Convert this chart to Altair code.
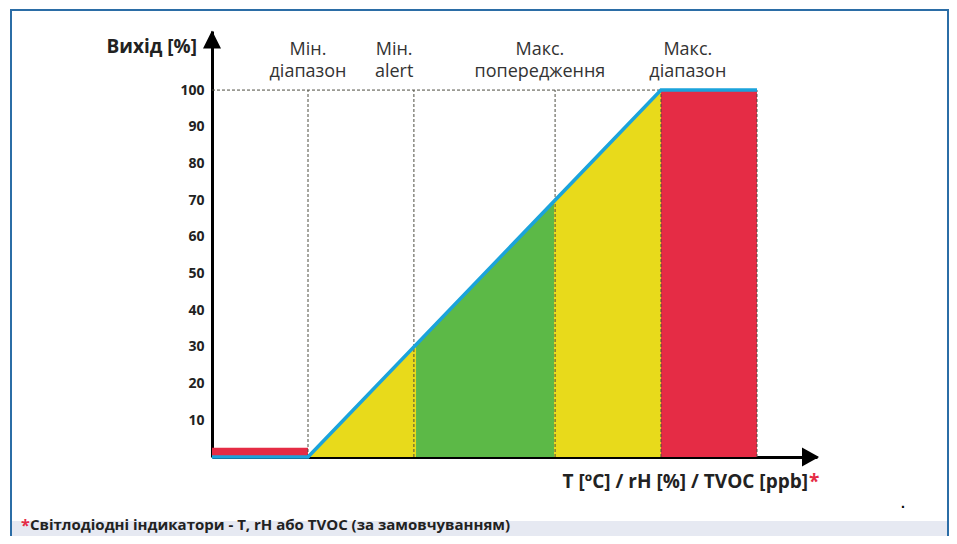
import altair as alt
import pandas as pd

# ---------------- data ----------------
X_DOMAIN = [-27.2, 144.2]
Y_DOMAIN = [0, 116.1]

y_ticks = [10, 20, 30, 40, 50, 60, 70, 80, 90, 100]

# zone boundaries on the input axis
x_start = -27.2
boundaries = [0, 30, 70, 100]
x_end = 127.2

# output characteristic (blue line)
line_x = [-27.2, 0, 100, 127.2]
line_y = [0, 0, 100, 100]

# coloured zones under the line
zone_names = ["low_alert", "low_alert", "ok", "ok", "high_warn", "high_warn"]
zone_x = [0, 30.6, 30.6, 69.7, 69.7, 100]
zone_y = [0, 30.6, 30.6, 69.7, 69.7, 100]
zone_seg = [1, 1, 2, 2, 3, 3]

# red blocks (range exceeded)
red_x = [-27.2, 100]
red_x2 = [0, 127.2]
red_y = [0, 0]
red_y2 = [2.5, 100]

# header labels
label_x = [0, 24.4, 65.7, 107.6]
label_text = ["Мін.\nдіапазон", "Мін.\nalert", "Макс.\nпопередження", "Макс.\nдіапазон"]

arrow_up = (-27.2, 113.8)
arrow_right = (142.1, 0)

# ---------------- styles ----------------
YELLOW = "#e8da1b"
GREEN = "#5cb947"
RED = "#e52c45"
BLUE = "#1ba3db"
DASH = "#4d4d40"

W, H = 605, 426

xs = alt.Scale(domain=X_DOMAIN, nice=False, zero=False)
ys = alt.Scale(domain=Y_DOMAIN, nice=False, zero=False)

one = pd.DataFrame({"a": [0]})

# frame + footer band
frame = alt.Chart(one).mark_rect(fill="white", fillOpacity=0, stroke="#2b6da6", strokeWidth=2).encode(
    x=alt.value(-201), x2=alt.value(736), y=alt.value(-21), y2=alt.value(515)
)
footer = alt.Chart(one).mark_rect(fill="#e6e9f2").encode(
    x=alt.value(-200), x2=alt.value(735), y=alt.value(490), y2=alt.value(515)
)

zones_df = pd.DataFrame({"zone": zone_names, "x": zone_x, "y": zone_y, "seg": zone_seg})
zones = alt.Chart(zones_df).mark_area(opacity=1).encode(
    x=alt.X("x:Q", scale=xs, axis=alt.Axis(labels=False, ticks=False, grid=False, title="",
                                           domainColor="black", domainWidth=3)),
    y=alt.Y("y:Q", scale=ys, axis=alt.Axis(values=y_ticks, ticks=False, grid=False, title="",
                                           domainColor="black", domainWidth=3,
                                           labelFont="Open Sans", labelFontWeight="bold",
                                           labelFontSize=14, labelColor="#222",
                                           labelPadding=8)),
    y2=alt.datum(0),
    detail="seg:N",
    color=alt.Color("zone:N", legend=None,
                    scale=alt.Scale(domain=["low_alert", "ok", "high_warn"],
                                    range=[YELLOW, GREEN, YELLOW])),
)

red_df = pd.DataFrame({"x": red_x, "x2": red_x2, "y": red_y, "y2": red_y2})
reds = alt.Chart(red_df).mark_rect(color=RED).encode(
    x=alt.X("x:Q", scale=xs), x2="x2:Q", y=alt.Y("y:Q", scale=ys), y2="y2:Q"
)

vdf = pd.DataFrame({"x": boundaries + [x_end], "y": [0] * 5, "y2": [100] * 5})
vlines = alt.Chart(vdf).mark_rule(color=DASH, strokeWidth=1, strokeDash=[3, 2]).encode(
    x=alt.X("x:Q", scale=xs), y=alt.Y("y:Q", scale=ys), y2="y2:Q"
)
hdf = pd.DataFrame({"x": [x_start], "x2": [boundaries[-1]], "y": [100]})
hline = alt.Chart(hdf).mark_rule(color=DASH, strokeWidth=1, strokeDash=[3, 2]).encode(
    x=alt.X("x:Q", scale=xs), x2="x2:Q", y=alt.Y("y:Q", scale=ys)
)

ldf = pd.DataFrame({"x": line_x, "y": line_y, "o": list(range(len(line_x)))})
line = alt.Chart(ldf).mark_line(color=BLUE, strokeWidth=3.5).encode(
    x=alt.X("x:Q", scale=xs), y=alt.Y("y:Q", scale=ys), order="o:Q"
)

up = alt.Chart(pd.DataFrame({"x": [arrow_up[0]], "y": [arrow_up[1]]})).mark_point(
    shape="M0,-1L1,1L-1,1Z", filled=True, color="black", opacity=1, size=324
).encode(x=alt.X("x:Q", scale=xs), y=alt.Y("y:Q", scale=ys))
right = alt.Chart(pd.DataFrame({"x": [arrow_right[0]], "y": [arrow_right[1]]})).mark_point(
    shape="M1,0L-0.8,-1L-0.8,1Z", filled=True, color="black", opacity=1, size=361
).encode(x=alt.X("x:Q", scale=xs), y=alt.Y("y:Q", scale=ys))

labels = alt.Chart(pd.DataFrame({"x": label_x, "t": label_text})).mark_text(
    font="Open Sans", fontSize=18, color="#333", lineBreak="\n", lineHeight=22,
    align="center", baseline="alphabetic"
).encode(x=alt.X("x:Q", scale=xs), y=alt.value(24), text="t:N")

ytitle = alt.Chart(one).mark_text(
    text="Вихід [%]", font="Open Sans", fontWeight="bold", fontSize=19, color="#222",
    align="right", baseline="alphabetic"
).encode(x=alt.value(-15), y=alt.value(22))

xtitle = alt.Chart(one).mark_text(
    text="T [ºC] / rH [%] / TVOC [ppb]", font="Open Sans", fontWeight="bold", fontSize=19,
    color="#222", align="right", baseline="alphabetic"
).encode(x=alt.value(596), y=alt.value(457))
xstar = alt.Chart(one).mark_text(
    text="*", font="Open Sans", fontWeight="bold", fontSize=19, color=RED,
    align="left", baseline="alphabetic"
).encode(x=alt.value(597), y=alt.value(457))

dot = alt.Chart(one).mark_text(text=".", fontSize=14, color="black", fontWeight="bold").encode(
    x=alt.value(691), y=alt.value(473)
)

fstar = alt.Chart(one).mark_text(
    text="*", font="Open Sans", fontWeight="bold", fontSize=16, color=RED,
    align="left", baseline="alphabetic"
).encode(x=alt.value(-191), y=alt.value(500))
ftext = alt.Chart(one).mark_text(
    text="Світлодіодні індикатори - T, rH або TVOC (за замовчуванням)", font="Open Sans",
    fontWeight="bold", fontSize=15, color="#222", align="left", baseline="alphabetic"
).encode(x=alt.value(-182), y=alt.value(499))

chart = alt.layer(
    frame, footer, zones, reds, vlines, hline, line, up, right,
    labels, ytitle, xtitle, xstar, dot, fstar, ftext
).properties(
    width=W, height=H,
    autosize=alt.AutoSizeParams(type="none"),
    padding={"left": 204, "top": 23, "right": 132, "bottom": 79},
).configure_view(stroke=None)

chart.save("out.html", embed_options={"renderer": "svg", "actions": False})
